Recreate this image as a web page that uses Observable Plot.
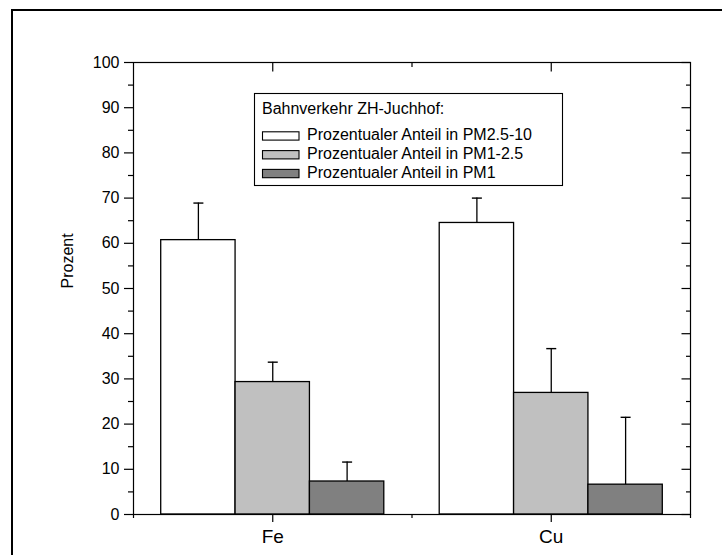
<!DOCTYPE html>
<html>
<head>
<meta charset="utf-8">
<script src="https://cdn.jsdelivr.net/npm/d3@7"></script>
<script src="https://cdn.jsdelivr.net/npm/@observablehq/plot@0.6"></script>
<style>
  html, body { margin: 0; padding: 0; background: #fff; overflow: hidden; }
  #wrap { position: relative; width: 722px; height: 555px; font-family: "Liberation Sans", Arial, Helvetica, sans-serif; }
  #border { position: absolute; left: 11px; top: 8.5px; width: 1000px; height: 1000px; border: 2.4px solid #000; pointer-events: none; }
  #legend { position: absolute; left: 0; top: 0; pointer-events: none; }
</style>
</head>
<body>
<div id="wrap"><div id="chart"></div><div id="border"></div></div>
<script>
// ---- data ----
const categories = ["Fe", "Cu"];
const seriesNames = [
  "Prozentualer Anteil in PM2.5-10",
  "Prozentualer Anteil in PM1-2.5",
  "Prozentualer Anteil in PM1"
];
const seriesColors = ["#ffffff", "#c0c0c0", "#808080"];
const pm25_10 = [60.7, 64.5];
const pm25_10Err = [8.2, 5.5];
const pm1_25 = [29.3, 26.9];
const pm1_25Err = [4.4, 9.8];
const pm1 = [7.3, 6.6];
const pm1Err = [4.3, 14.9];
const legendTitle = "Bahnverkehr ZH-Juchhof:";
const yLabel = "Prozent";
const yMajor = [0, 10, 20, 30, 40, 50, 60, 70, 80, 90, 100];
const yMinor = [5, 15, 25, 35, 45, 55, 65, 75, 85, 95];
const xMajor = [1, 2];
const xMinor = [0.5, 1.5, 2.5];

// ---- build table ----
const xDomain = [0.5, 2.5];
const yDomain = [0, 100];
const barW = 0.267;
const values = [pm25_10, pm1_25, pm1];
const errs = [pm25_10Err, pm1_25Err, pm1Err];
const rows = [];
categories.forEach((c, i) => {
  values.forEach((vals, s) => {
    const center = (i + 1) + (s - 1) * barW;
    rows.push({
      cat: c, series: seriesNames[s], color: seriesColors[s],
      x1: center - barW / 2, x2: center + barW / 2, xc: center,
      v: vals[i], top: vals[i] + errs[s][i]
    });
  });
});

const seg = (x1, y1, x2, y2) => ({ draw(ctx) { ctx.moveTo(x1, y1); ctx.lineTo(x2, y2); } });
const capSym = seg(-5, 0, 5, 0);
const font = "Liberation Sans, Arial, Helvetica, sans-serif";

const chart = Plot.plot({
  width: 722,
  height: 555,
  marginLeft: 133,
  marginRight: 32,
  marginTop: 62,
  marginBottom: 41,
  style: { fontFamily: font, background: "white", color: "black" },
  x: { domain: xDomain, axis: null },
  y: { domain: yDomain, axis: null },
  marks: [
    Plot.rectY(rows, { x1: "x1", x2: "x2", y1: 0, y2: "v", fill: "color", stroke: "black", strokeWidth: 1.3 }),
    Plot.ruleX(rows, { x: "xc", y1: "v", y2: "top", stroke: "black", strokeWidth: 1.3 }),
    Plot.dot(rows, { x: "xc", y: "top", symbol: capSym, stroke: "black", fill: "none", strokeWidth: 1.4 }),
    Plot.frame({ stroke: "black", strokeWidth: 1.2 }),
    // left axis (outward ticks)
    Plot.axisY({ anchor: "left", ticks: yMajor, tickSize: 9, tickPadding: 5, fontSize: 16, label: null, strokeWidth: 1.2 }),
    Plot.axisY({ anchor: "left", ticks: yMinor, tickSize: 5, tickFormat: () => "", label: null, strokeWidth: 1.2 }),
    // right axis (inward ticks)
    Plot.dot(yMajor, { x: () => xDomain[1], y: d => d, symbol: seg(0, 0, -9, 0), stroke: "black", fill: "none", strokeWidth: 1.2 }),
    Plot.dot(yMinor, { x: () => xDomain[1], y: d => d, symbol: seg(0, 0, -4.5, 0), stroke: "black", fill: "none", strokeWidth: 1.2 }),
    // top axis (inward ticks)
    Plot.dot(xMajor, { x: d => d, y: () => yDomain[1], symbol: seg(0, 0, 0, 9), stroke: "black", fill: "none", strokeWidth: 1.2 }),
    Plot.dot([1.5], { x: d => d, y: () => yDomain[1], symbol: seg(0, 0, 0, 4.5), stroke: "black", fill: "none", strokeWidth: 1.2 }),
    // bottom axis (outward ticks)
    Plot.axisX({ anchor: "bottom", ticks: xMajor, tickSize: 8, tickPadding: 7, tickFormat: d => categories[d - 1], fontSize: 19, label: null, strokeWidth: 1.2 }),
    Plot.axisX({ anchor: "bottom", ticks: xMinor, tickSize: 4, tickFormat: () => "", label: null, strokeWidth: 1.2 }),
    // y label
    Plot.text([yLabel], { frameAnchor: "left", text: d => d, rotate: -90, dx: -66, fontSize: 16 })
  ]
});
document.getElementById("chart").appendChild(chart);

// ---- legend (overlay) ----
const lg = d3.create("svg").attr("id", "legend").attr("width", 722).attr("height", 555)
  .style("font-family", font).style("font-size", "16px");
lg.append("rect").attr("x", 254.5).attr("y", 93.5).attr("width", 308).attr("height", 92)
  .attr("fill", "white").attr("stroke", "black").attr("stroke-width", 1.1);
lg.append("text").attr("x", 262).attr("y", 114.3).text(legendTitle);
seriesNames.forEach((name, s) => {
  lg.append("rect").attr("x", 262.5).attr("y", 131.8 + s * 18.8).attr("width", 36.5).attr("height", 8.3)
    .attr("fill", seriesColors[s]).attr("stroke", "black").attr("stroke-width", 1.1);
  lg.append("text").attr("x", 307).attr("y", 140.2 + s * 18.8).text(name);
});
document.getElementById("wrap").appendChild(lg.node());
</script>
</body>
</html>
